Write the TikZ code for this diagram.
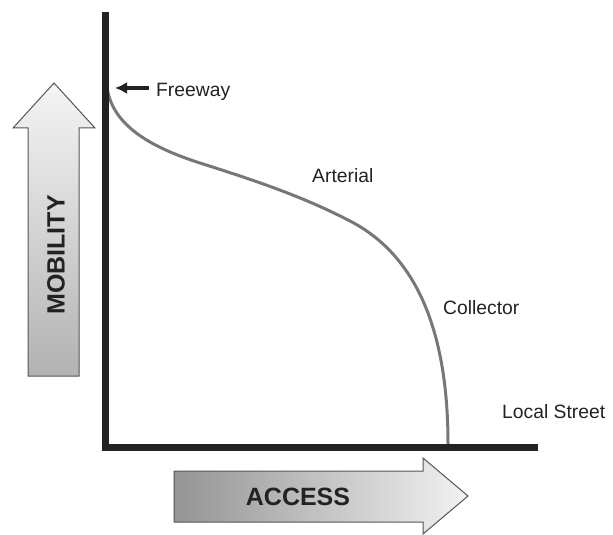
\documentclass[tikz,border=0pt]{standalone}
\usepackage{fontspec}
\setmainfont{Liberation Sans}
\usetikzlibrary{arrows.meta}
\definecolor{axisc}{HTML}{222222}
\definecolor{curvec}{HTML}{777777}
\definecolor{outlinec}{HTML}{555555}
\definecolor{textc}{HTML}{222222}
\tikzset{
  lbl/.style={anchor=base west, inner sep=0pt, text=textc, font=\fontsize{19.3bp}{23bp}\selectfont},
  biglbl/.style={inner sep=0pt, text=textc, font=\fontsize{25bp}{30bp}\selectfont\bfseries},
  axisline/.style={line width=7bp, draw=axisc, line cap=butt, line join=miter},
  curveline/.style={line width=3bp, draw=curvec, line cap=butt},
  bigarrow/.style={draw=outlinec, line width=1bp, line join=miter},
}
\begin{document}
\begin{tikzpicture}[x=1bp,y=-1bp]
\useasboundingbox (0,0) rectangle (613,535);
% big gradient arrows
\path[bigarrow, top color=white!96!black, bottom color=white!70!black]
  (54,83) -- (95,128) -- (79,128) -- (79,376) -- (28,376) -- (28,128) -- (13,128) -- cycle;
\path[bigarrow, left color=white!58!black, right color=white!95!black]
  (174,471) -- (423,471) -- (423,458) -- (468,496) -- (423,534) -- (423,522) -- (174,522) -- cycle;
\node[biglbl, rotate=90] (mob) at (56,255) {MOBILITY};
\node[biglbl] (acc) at (298,497) {ACCESS};
% curve
\coordinate (c0) at (107,87);
\coordinate (c1) at (200,163);
\coordinate (c2) at (350,221);
\coordinate (c3) at (448,444);
\draw[curveline] (c0) .. controls (112,125) and (150,147) .. (c1)
  .. controls (250,179) and (300,195) .. (c2)
  .. controls (410,252) and (448,320) .. (c3);
% axes
\draw[axisline] (105,12) -- (105,447) -- (538,447);
% labels
\node[lbl] (fw) at (156,97) {Freeway};
\node[lbl] (art) at (312,183) {Arterial};
\node[lbl] (col) at (443,314) {Collector};
\node[lbl] (loc) at (502,418) {Local Street};
\coordinate (fwtail) at (149,88);
\coordinate (fwtip) at (115,88);
\draw[line width=3.6bp, draw=axisc, -{Latex[length=12bp,width=12bp]}] (fwtail) -- (fwtip);
\end{tikzpicture}
\end{document}
